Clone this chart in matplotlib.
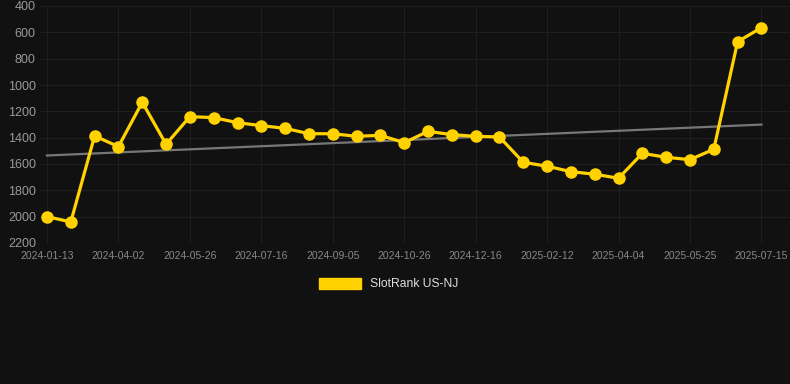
import matplotlib
matplotlib.use("Agg")
import matplotlib.pyplot as plt
import numpy as np
from matplotlib.patches import Patch

dates = ["2024-01-13", "2024-02-08", "2024-03-06", "2024-04-02", "2024-04-20", "2024-05-08",
         "2024-05-26", "2024-06-12", "2024-06-29", "2024-07-16", "2024-08-02", "2024-08-19",
         "2024-09-05", "2024-09-22", "2024-10-09", "2024-10-26", "2024-11-12", "2024-11-29",
         "2024-12-16", "2025-01-04", "2025-01-23", "2025-02-12", "2025-03-01", "2025-03-18",
         "2025-04-04", "2025-04-21", "2025-05-08", "2025-05-25", "2025-06-11", "2025-06-28",
         "2025-07-15"]
ranks = [2000, 2040, 1387, 1468, 1131, 1450, 1240, 1248, 1286, 1309, 1329, 1370, 1370,
         1390, 1382, 1438, 1352, 1377, 1390, 1395, 1587, 1617, 1658, 1678, 1708, 1519,
         1549, 1567, 1488, 671, 565]
yticks = [400, 600, 800, 1000, 1200, 1400, 1600, 1800, 2000, 2200]
series_name = "SlotRank US-NJ"

bg = "#111111"
gold = "#FFD200"
W, H = 790, 384
fig = plt.figure(figsize=(W / 100, H / 100), dpi=100, facecolor=bg)
ax = fig.add_axes([40 / W, 1 - 243 / H, 750 / W, 237 / H], facecolor=bg)
plt.rcParams['font.family'] = ['Liberation Sans', 'DejaVu Sans']

x = np.arange(len(ranks))
coef = np.polyfit(x, ranks, 1)
ax.plot(x, np.polyval(coef, x), color="#777777", lw=1.6, zorder=2)
ax.plot(x, ranks, color=gold, lw=2.3, marker="o", ms=8, zorder=3)

ax.set_xlim(-0.294, 31.2)
ax.set_ylim(2200, 400)
ax.set_yticks(yticks)
ax.set_yticklabels([str(v) for v in yticks], fontsize=9, color="#999999", family=['Liberation Sans'])
tick_idx = list(range(0, len(dates), 3))
ax.set_xticks(tick_idx)
ax.set_xticklabels([dates[i] for i in tick_idx], fontsize=7.5, color="#888888", family=['Liberation Sans'])
ax.grid(True, color="#1f1f1f", lw=0.8)
ax.tick_params(length=0, pad=3)
ax.tick_params(axis="x", pad=6)
for s in ax.spines.values():
    s.set_visible(False)

leg = fig.legend(handles=[Patch(facecolor=gold, edgecolor=gold)], labels=[series_name],
                 loc="center", bbox_to_anchor=(389 / W, 1 - 284 / H), frameon=False,
                 handlelength=3.4, handleheight=1.0, labelcolor="#dddddd",
                 prop={'family': 'Liberation Sans', 'size': 8.7})
fig.savefig("out.png", dpi=100, facecolor=bg)
